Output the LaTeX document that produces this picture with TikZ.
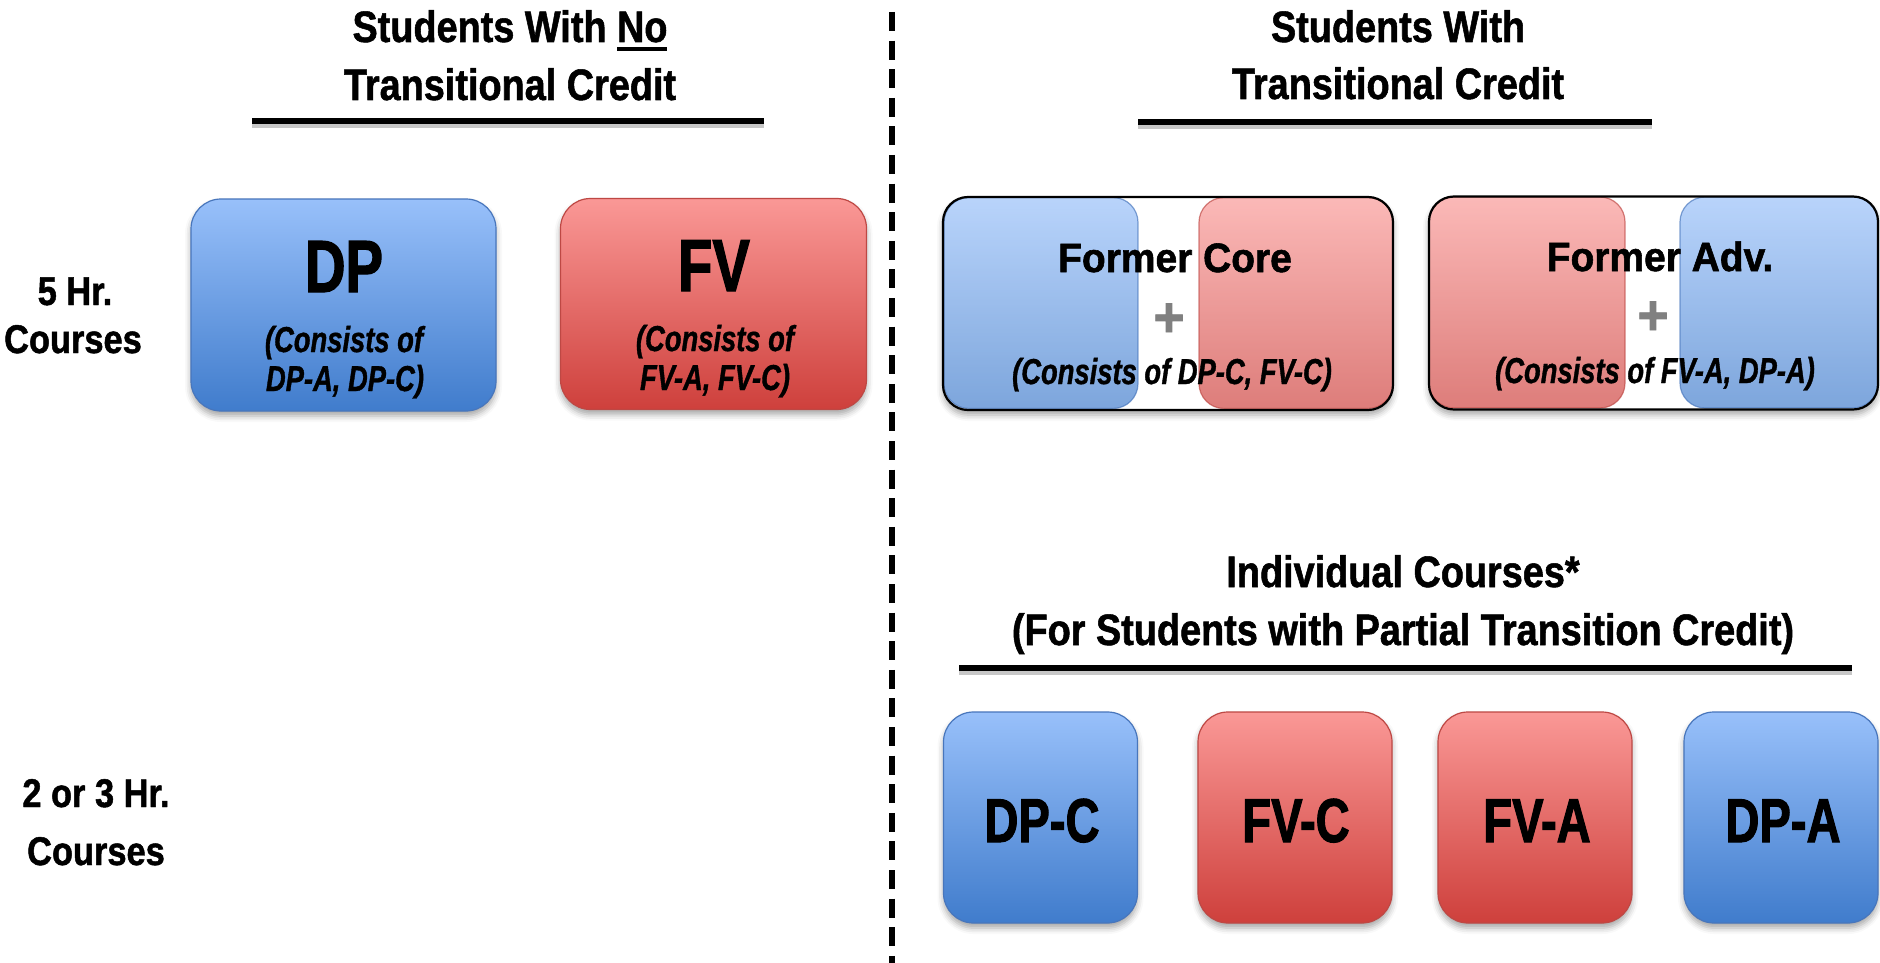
\documentclass[tikz,border=0pt]{standalone}
\usepackage{fontspec}
\newfontfamily\tfont{Liberation Sans}[FakeStretch=0.86,FakeBold=1.2]
\newfontfamily\nfont{Liberation Sans}[FakeStretch=0.76,FakeBold=1.6]
\newfontfamily\sfontx{Liberation Sans}[FakeStretch=0.76,FakeBold=1.0]
\newfontfamily\ffont{Liberation Sans}[FakeStretch=0.95,FakeBold=1.4]
\usetikzlibrary{shadows.blur}
\definecolor{btop}{RGB}{152,192,250}
\definecolor{bbot}{RGB}{64,124,204}
\definecolor{bdraw}{RGB}{72,118,188}
\definecolor{rtop}{RGB}{250,152,150}
\definecolor{rbot}{RGB}{206,64,60}
\definecolor{rdraw}{RGB}{190,72,68}
\definecolor{plusgray}{RGB}{128,128,128}
\newcommand\myul[1]{\setbox0\hbox{#1}\rlap{\rule[-4.3pt]{\wd0}{1.8pt}}#1}
\begin{document}
\begin{tikzpicture}[x=0.5pt,y=-0.5pt,
  every node/.style={inner sep=0pt,outer sep=0pt},
  tt/.style={font=\tfont\bfseries\fontsize{22}{29}\selectfont, anchor=base},
  sidelbl/.style={font=\tfont\bfseries\fontsize{20}{24}\selectfont, anchor=base},
  bigtxt/.style={font=\nfont\bfseries\fontsize{37}{40}\selectfont, anchor=base},
  subtxt/.style={font=\sfontx\bfseries\itshape\fontsize{18}{21}\selectfont, anchor=base},
  fmrtxt/.style={font=\ffont\bfseries\fontsize{20.5}{24}\selectfont, anchor=base},
  plustxt/.style={font=\ffont\bfseries\fontsize{28}{30}\selectfont, text=plusgray},
  lbltxt/.style={font=\nfont\bfseries\fontsize{31}{34}\selectfont, anchor=base},
  cardbase/.style={rectangle, rounded corners=15pt, line width=0.6pt,
    blur shadow={shadow xshift=0pt, shadow yshift=-2.5pt, shadow blur radius=3pt, shadow opacity=35}},
  bluecard/.style={cardbase, draw=bdraw, top color=btop, bottom color=bbot},
  redcard/.style={cardbase, draw=rdraw, top color=rtop, bottom color=rbot},
  ghostblue/.style={rectangle, rounded corners=12.5pt, line width=0.6pt, draw=bdraw, top color=btop, bottom color=bbot, opacity=0.68},
  ghostred/.style={rectangle, rounded corners=12.5pt, line width=0.6pt, draw=rdraw, top color=rtop, bottom color=rbot, opacity=0.68},
  outerbox/.style={rectangle, rounded corners=12.5pt, fill=white,
    blur shadow={shadow xshift=0pt, shadow yshift=-2.5pt, shadow blur radius=3pt, shadow opacity=35}},
  outerline/.style={draw=black, line width=1.1pt, rounded corners=12.5pt},
  rulestyle/.style={line width=3pt, preaction={draw=black!22, line width=3pt, transform canvas={yshift=-2pt}}},
  divider/.style={line width=2.8pt, dash pattern=on 9.5pt off 4.8pt}
]
\useasboundingbox (0,0) rectangle (1880,963);

% divider
\coordinate (dv1) at (892,12);
\coordinate (dv2) at (892,963);
\draw[divider] (dv1) -- (dv2);

% titles
\node[tt] (tL1) at (510,42) {Students With \myul{No}};
\node[tt] (tL2) at (510,100) {Transitional Credit};
\coordinate (rL1) at (252,121); \coordinate (rL2) at (764,121);
\draw[rulestyle] (rL1) -- (rL2);

\node[tt] (tR1) at (1398,42) {Students With};
\node[tt] (tR2) at (1398,99) {Transitional Credit};
\coordinate (rR1) at (1138,122); \coordinate (rR2) at (1652,122);
\draw[rulestyle] (rR1) -- (rR2);

\node[tt] (iT1) at (1403,587) {Individual Courses*};
\node[tt] (iT2) at (1403,645) {(For Students with Partial Transition Credit)};
\coordinate (rI1) at (959,668); \coordinate (rI2) at (1852,668);
\draw[rulestyle] (rI1) -- (rI2);

% side labels
\node[sidelbl] (s1a) at (75,305) {5 Hr.};
\node[sidelbl] (s1b) at (73,353) {Courses};
\node[sidelbl] (s2a) at (96,807) {2 or 3 Hr.};
\node[sidelbl] (s2b) at (96,865) {Courses};

% 5 hr boxes (no transitional credit)
\node[bluecard, minimum width=152.5pt, minimum height=106pt] (dp) at (343.5,305) {};
\node[bigtxt] (dpT) at (344,292) {DP};
\node[subtxt] (dpS1) at (344,352) {(Consists of};
\node[subtxt] (dpS2) at (345,391) {DP-A, DP-C)};

\node[redcard, minimum width=153pt, minimum height=105.5pt] (fv) at (713.5,304) {};
\node[bigtxt] (fvT) at (714,291) {FV};
\node[subtxt] (fvS1) at (715,351) {(Consists of};
\node[subtxt] (fvS2) at (715,390) {FV-A, FV-C)};

% Former Core
\node[outerbox, minimum width=225pt, minimum height=106.5pt] (fc) at (1168,303.5) {};
\node[ghostblue, minimum width=97pt, minimum height=105.5pt] (fcB) at (1041,303) {};
\node[ghostred, minimum width=97pt, minimum height=105.5pt] (fcR) at (1296,303) {};
\draw[outerline] (fc.north west) rectangle (fc.south east);
\node[fmrtxt] (fcT) at (1175,272) {Former Core};
\node[plustxt] (fcP) at (1169,320) {+};
\node[subtxt] (fcS) at (1172,384) {(Consists of DP-C, FV-C)};

% Former Adv.
\node[outerbox, minimum width=224.5pt, minimum height=106.5pt] (fa) at (1653.5,303) {};
\node[ghostred, minimum width=98pt, minimum height=105.5pt] (faR) at (1527,302.5) {};
\node[ghostblue, minimum width=99pt, minimum height=105.5pt] (faB) at (1779,302.5) {};
\draw[outerline] (fa.north west) rectangle (fa.south east);
\node[fmrtxt] (faT) at (1660,271) {Former Adv.};
\node[plustxt] (faP) at (1653,318) {+};
\node[subtxt] (faS) at (1655,383) {(Consists of FV-A, DP-A)};

% individual courses
\node[bluecard, minimum width=97pt, minimum height=105.5pt] (c1) at (1040.5,817.5) {};
\node[redcard, minimum width=97pt, minimum height=105.5pt] (c2) at (1295,817.5) {};
\node[redcard, minimum width=97pt, minimum height=105.5pt] (c3) at (1535,817.5) {};
\node[bluecard, minimum width=97pt, minimum height=105.5pt] (c4) at (1781,817.5) {};
\node[lbltxt] (c1T) at (1042,842) {DP-C};
\node[lbltxt] (c2T) at (1296,842) {FV-C};
\node[lbltxt] (c3T) at (1537,842) {FV-A};
\node[lbltxt] (c4T) at (1783,842) {DP-A};
\end{tikzpicture}
\end{document}
